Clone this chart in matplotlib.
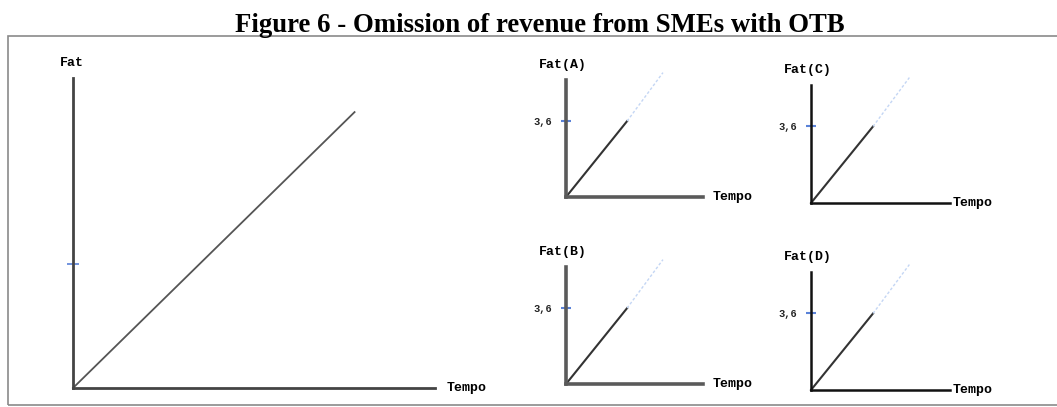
import matplotlib
matplotlib.use("Agg")
import matplotlib.pyplot as plt
from matplotlib.patches import Rectangle

# Main panel: revenue (Fat) grows linearly with time (Tempo)
main_tempo = [0, 9.1]
main_fat = [0, 8.9]
main_tick = 4.0

# Small panels (A-D): solid part up to 3,6, dotted continuation beyond
panel_names = ["A", "B", "C", "D"]
solid_tempo = [0, 2.9]
solid_fat = [0, 3.6]
dotted_tempo = [2.9, 4.6]
dotted_fat = [3.6, 5.9]
fat_tick = [3.6]
fat_tick_labels = ["3,6"]

W, H = 1057, 407
fig = plt.figure(figsize=(W / 100, H / 100), dpi=100)
fig.patch.set_facecolor("white")

serif = ["Liberation Serif", "DejaVu Serif"]
mono = ["Liberation Mono", "DejaVu Sans Mono"]

fig.text(540 / W, 1 - 32 / H, "Figure 6 - Omission of revenue from SMEs with OTB",
         ha="center", va="baseline", fontsize=19.3, fontweight="bold", family=serif)

# frame around the drawing
fig.patches.append(Rectangle((8 / W, 2 / H), 1.2, (405 - 36) / H,
                             transform=fig.transFigure, fill=False,
                             edgecolor="#8a8a8a", linewidth=1.2))

tick_blue = "#5a82d8"


def px_axes(x0, y0, w, h):
    # axes placed by its origin (x0, y0) in pixel coords from the top-left
    return fig.add_axes([x0 / W, (H - y0) / H, w / W, h / H])


def style_axes(ax, color, lw):
    for side in ["top", "right"]:
        ax.spines[side].set_visible(False)
    for side in ["left", "bottom"]:
        ax.spines[side].set_color(color)
        ax.spines[side].set_linewidth(lw)
    ax.set_xticks([])
    ax.patch.set_alpha(0)


def axis_labels(ax, ylab, fat_dx, tempo_dx):
    ax.annotate(ylab, xy=(0, 1), xycoords="axes fraction", xytext=(fat_dx, 15),
                textcoords="offset pixels", ha="center", va="center",
                fontsize=9.5, fontweight="bold", family=mono)
    ax.annotate("Tempo", xy=(1, 0), xycoords="axes fraction", xytext=(tempo_dx, 0),
                textcoords="offset pixels", ha="left", va="center",
                fontsize=9.5, fontweight="bold", family=mono)


# main chart
ax = px_axes(73, 388, 362, 310)
ax.set_xlim(0, 11.7)
ax.set_ylim(0, 10)
style_axes(ax, "#444444", 2.0)
ax.plot(main_tempo, main_fat, color="#555555", linewidth=1.3, clip_on=False)
ax.set_yticks([main_tick], [""])
ax.tick_params(axis="y", direction="inout", length=8, width=1.2, color=tick_blue)
axis_labels(ax, "Fat", -1, 12)

# small charts
positions = {
    "A": (566, 197, 137, 117),
    "B": (566, 384, 137, 117),
    "C": (811, 203, 139, 118),
    "D": (811, 390, 139, 118),
}
axis_styles = {
    "A": ("#5a5a5a", 2.6),
    "B": ("#5a5a5a", 2.6),
    "C": ("#111111", 1.8),
    "D": ("#111111", 1.8),
}
tempo_gap = {"A": 10, "B": 10, "C": 3, "D": 3}

for name in panel_names:
    x0, y0, w, h = positions[name]
    ax = px_axes(x0, y0, w, h)
    ax.set_xlim(0, 6.5)
    ax.set_ylim(0, 5.55)
    color, lw = axis_styles[name]
    style_axes(ax, color, lw)
    ax.plot(solid_tempo, solid_fat, color="#333333", linewidth=1.5, clip_on=False)
    ax.plot(dotted_tempo, dotted_fat, color="#c4d6f4", linewidth=1.0,
            linestyle=(0, (2, 1.5)), clip_on=False)
    ax.set_yticks(fat_tick, fat_tick_labels)
    ax.tick_params(axis="y", direction="inout", length=6.5, width=1.5,
                   color=tick_blue, pad=7, labelsize=7.5, labelcolor="#222222")
    for lab in ax.get_yticklabels():
        lab.set_family(mono)
        lab.set_fontweight("bold")
    axis_labels(ax, f"Fat({name})", -3, tempo_gap[name])

fig.savefig("out.png", dpi=100)
